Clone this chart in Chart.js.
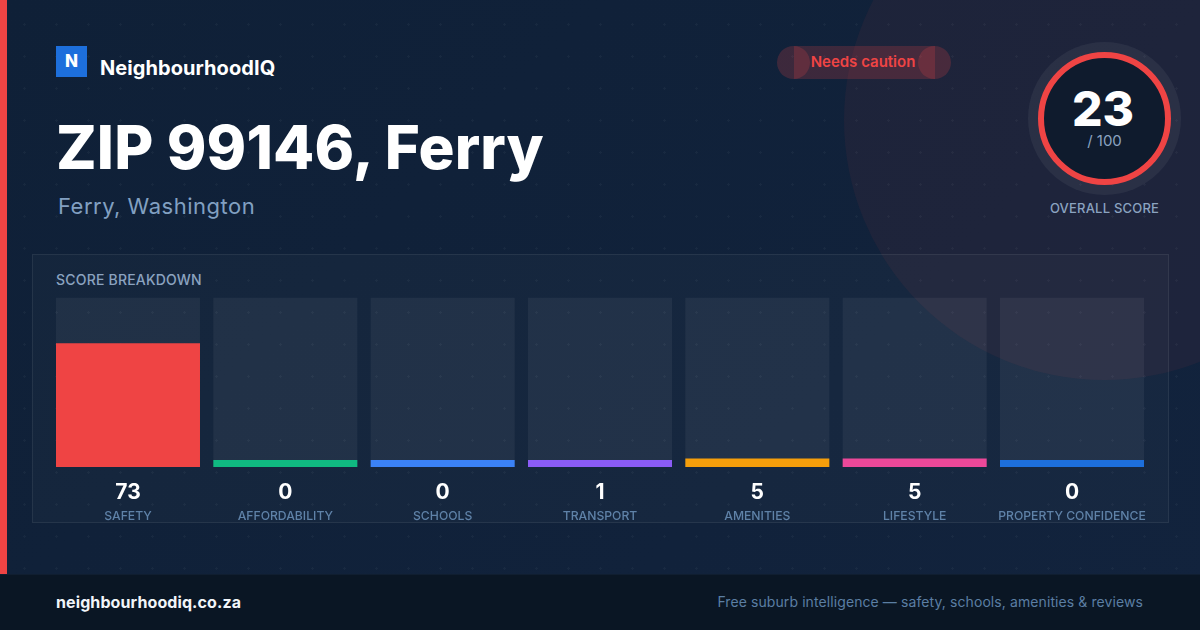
<!DOCTYPE html>
<html>
<head>
<meta charset="utf-8">
<title>NeighbourhoodIQ</title>
<script src="https://cdn.jsdelivr.net/npm/chart.js@4/dist/chart.umd.min.js"></script>
<style>
  html, body { margin: 0; padding: 0; }
  body { width: 1200px; height: 630px; overflow: hidden; position: relative; font-family: Inter, sans-serif; background: #10213a; }
  div { position: absolute; box-sizing: border-box; white-space: nowrap; }
  #bg { left: 0; top: 0; width: 1200px; height: 630px; background: linear-gradient(135deg, #0f2037 0%, #12233d 100%); }
  #blob { left: 844px; top: -140px; width: 520px; height: 520px; border-radius: 50%; background: rgba(239,68,68,.06); }
  #dots { left: 0; top: 0; width: 1200px; height: 630px;
    background-image: radial-gradient(circle at 24.5px 24.5px, rgba(255,255,255,.035) 1px, transparent 1.2px);
    background-size: 32px 32px; }
  #accent { left: 0; top: 0; width: 7px; height: 574px; background: #ef4444; }
  #logo { left: 56px; top: 46px; width: 31px; height: 31px; background: #1d6fdc; color: #fff; font-weight: 800; font-size: 17px; line-height: 30px; text-align: center; }
  #brand { left: 100px; top: 55px; font-size: 20px; font-weight: 700; line-height: 26px; color: #fff; letter-spacing: .07px; }
  #title { left: 56px; top: 110px; font-size: 60px; font-weight: 800; line-height: 74px; color: #fff; letter-spacing: .15px; }
  #sub { left: 58px; top: 192px; font-size: 22px; line-height: 28px; color: #82a0c2; letter-spacing: .5px; }
  .pill { background: rgba(239,68,68,.2); top: 46px; height: 33px; }
  .cap { width: 33px; border-radius: 50%; }
  #pilltext { left: 776px; width: 174px; top: 46px; height: 33px; line-height: 32px; text-align: center; font-size: 15px; font-weight: 600; color: #ef4444; }
  #halo { left: 1028px; top: 42px; width: 153px; height: 153px; border-radius: 50%; background: rgba(255,255,255,.055); }
  #ring { left: 1038px; top: 52px; width: 133px; height: 133px; border-radius: 50%; background: #0f1b2d; border: 6px solid #ef4444; }
  #score { left: 1026.5px; width: 153px; top: 80px; text-align: center; font-size: 48px; font-weight: 800; line-height: 58px; color: #fff; }
  #of { left: 1028px; width: 153px; top: 131px; text-align: center; font-size: 15px; line-height: 20px; color: #8ba3c0; }
  #overall { left: 1028px; width: 153px; top: 199px; text-align: center; font-size: 13px; font-weight: 500; line-height: 18px; color: #8ba3c0; letter-spacing: .2px; }
  #panel { left: 32px; top: 254px; width: 1137px; height: 269px; background: rgba(255,255,255,.025); border: 1px solid rgba(255,255,255,.07); }
  #heading { left: 56px; top: 271px; font-size: 14px; font-weight: 500; line-height: 18px; color: #8ba3c0; letter-spacing: .2px; }
  #footer { left: 0; top: 574px; width: 1200px; height: 56px; background: #0a1624; border-top: 1px solid #101e30; }
  #site { left: 56px; top: 592px; font-size: 16px; font-weight: 700; line-height: 20px; color: #f1f5f9; letter-spacing: .1px; }
  #tag { right: 57px; top: 593px; font-size: 14px; line-height: 18px; color: #5b7ea3; letter-spacing: .09px; }
  canvas { position: absolute; left: 0; top: 0; }
</style>
</head>
<body>
<div id="bg"></div>
<div id="blob"></div>
<div id="dots"></div>
<div id="accent"></div>
<div id="logo">N</div>
<div id="brand">NeighbourhoodIQ</div>
<div id="title">ZIP 99146, Ferry</div>
<div id="sub">Ferry, Washington</div>
<div class="pill cap" style="left:777px"></div>
<div class="pill" style="left:793.5px;width:141px"></div>
<div class="pill cap" style="left:918px"></div>
<div id="pilltext">Needs caution</div>
<div id="halo"></div>
<div id="ring"></div>
<div id="score">23</div>
<div id="of">/ 100</div>
<div id="overall">OVERALL SCORE</div>
<div id="panel"></div>
<div id="heading">SCORE BREAKDOWN</div>
<div id="footer"></div>
<div id="site">neighbourhoodiq.co.za</div>
<div id="tag">Free suburb intelligence — safety, schools, amenities &amp; reviews</div>
<canvas id="chart" width="1200" height="630"></canvas>

<script>
var categories = ["SAFETY", "AFFORDABILITY", "SCHOOLS", "TRANSPORT", "AMENITIES", "LIFESTYLE", "PROPERTY CONFIDENCE"];
var scores = [73, 0, 0, 1, 5, 5, 0];
var track = [100, 100, 100, 100, 100, 100, 100];
var barColors = ["#ef4444", "#10b981", "#3b82f6", "#8b5cf6", "#f59e0b", "#ec4899", "#1d6fdc"];

var ctx = document.getElementById("chart").getContext("2d");
var chart = new Chart(ctx, {
  type: "bar",
  data: {
    labels: categories,
    datasets: [
      { data: scores, backgroundColor: barColors, minBarLength: 7, xAxisID: "x" },
      { data: track, backgroundColor: "rgba(255,255,255,.055)", xAxisID: "x" }
    ]
  },
  options: {
    responsive: false,
    animation: false,
    devicePixelRatio: 1,
    layout: { padding: { left: 49.33, right: 49.33, top: 297.6, bottom: 104 } },
    datasets: { bar: { grouped: false, barPercentage: 0.91525, categoryPercentage: 1, borderWidth: 0 } },
    plugins: { legend: { display: false }, tooltip: { enabled: false } },
    scales: {
      y: { display: false, min: 0, max: 100 },
      x: {
        position: "bottom",
        grid: { display: false, drawTicks: false },
        border: { display: false },
        afterFit: function(scale) { scale.height = 36; },
        ticks: {
          autoSkip: false, maxRotation: 0, padding: 13, color: "#ffffff",
          font: { family: "Inter", size: 21, weight: "700" },
          callback: function(value, index) { return String(scores[index]); }
        }
      },
      names: {
        type: "category",
        labels: categories,
        position: "bottom",
        grid: { display: false, drawTicks: false },
        border: { display: false },
        afterFit: function(scale) { scale.height = 23; },
        ticks: {
          autoSkip: false, maxRotation: 0, padding: 6, color: "#5f82a8",
          font: { family: "Inter", size: 12.2, weight: "500" }
        }
      }
    }
  }
});
</script>
</body>
</html>
